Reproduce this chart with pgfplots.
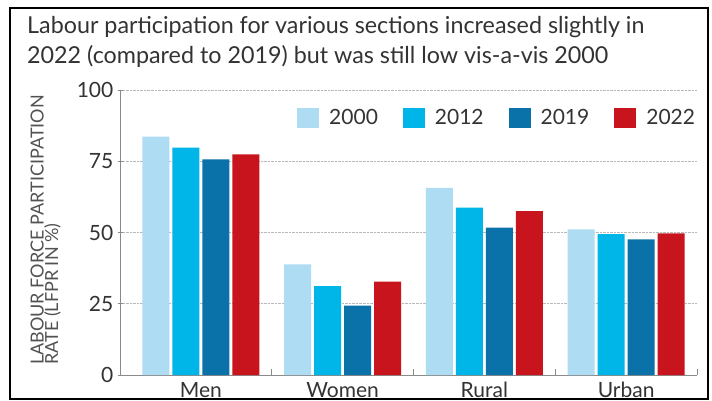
\documentclass[border=0pt]{standalone}
\usepackage{fontspec}
\setmainfont{Lato}
\usepackage{pgfplots}
\pgfplotsset{compat=1.18}
\definecolor{cA}{HTML}{AEDCF2}
\definecolor{cB}{HTML}{00B5E8}
\definecolor{cC}{HTML}{0A72A8}
\definecolor{cD}{HTML}{C8141C}
\definecolor{txt}{HTML}{333333}
\definecolor{axc}{HTML}{8A8A8A}
\begin{document}
\begin{tikzpicture}
\useasboundingbox (0,0) rectangle (712bp,-401bp);
\fill[white] (0,0) rectangle (712bp,-401bp);
\node[anchor=base west, inner sep=0pt, font=\fontsize{23.3bp}{25bp}\selectfont, text=txt] at (27bp,-33bp) {Labour participation for various sections increased slightly in};
\node[anchor=base west, inner sep=0pt, font=\fontsize{23.3bp}{25bp}\selectfont, text=txt] at (27bp,-63bp) {2022 (compared to 2019) but was still low vis-a-vis 2000};
\node[rotate=90, anchor=base west, inner sep=0pt, font=\fontsize{18bp}{20bp}\selectfont, text=txt!85!white] at (43.5bp,-365bp) {LABOUR FORCE PARTICIPATION};
\node[rotate=90, anchor=base west, inner sep=0pt, font=\fontsize{18bp}{20bp}\selectfont, text=txt!85!white] at (58bp,-365bp) {RATE (LFPR IN \%)};
\begin{axis}[
  at={(120bp,-375bp)}, anchor=south west,
  scale only axis, width=577bp, height=285bp,
  xmin=-0.57, xmax=3.5, ymin=0, ymax=100,
  ybar, bar width=27bp,
  axis x line*=bottom, axis y line*=left,
  axis line style={-, draw=axc, line width=0.9bp},
  ytick={0,25,50,75,100},
  ymajorgrids, grid style={densely dotted, draw=gray!55, line width=0.8bp},
  tick style={draw=axc, line width=0.8bp},
  major tick length=5bp, tick align=center,
  /pgf/number format/assume math mode=true,
  yticklabel style={font=\fontsize{21bp}{24bp}\selectfont, text=txt, anchor=east, inner sep=0pt, xshift=-4bp},
  xtick={0,1,2,3}, xticklabels={Men,Women,Rural,Urban},
  x tick style={draw=none},
  xticklabel style={font=\fontsize{21bp}{24bp}\selectfont, text=txt, anchor=base, inner sep=0pt, yshift=-20bp},
  extra x ticks={0.5,1.5,2.5,3.5}, extra x tick labels={},
  extra x tick style={major tick length=6bp, tick align=inside, x tick style={draw=axc, line width=0.8bp}},
  legend columns=4,
  legend image code/.code={\fill[#1] (0bp,-10bp) rectangle (22bp,10bp); \path (30bp,0bp);},
  legend style={at={(0.3068,0.9018)}, anchor=west, draw=none, fill=none, inner sep=0pt,
    font=\fontsize{21bp}{24bp}\selectfont, text=txt,
    /tikz/every even column/.append style={column sep=23bp}},
]
\addplot[fill=cA, draw=none, bar shift=-45bp] coordinates {(0,83.6) (1,38.8) (2,65.7) (3,51.1)};
\addplot[fill=cB, draw=none, bar shift=-15bp] coordinates {(0,79.8) (1,31.2) (2,58.7) (3,49.4)};
\addplot[fill=cC, draw=none, bar shift=15bp] coordinates {(0,75.7) (1,24.3) (2,51.7) (3,47.6)};
\addplot[fill=cD, draw=none, bar shift=45bp] coordinates {(0,77.4) (1,32.8) (2,57.5) (3,49.7)};
\legend{2000,2012,2019,2022}
\end{axis}
\draw[black, line width=1.2bp] (10bp,-8bp) rectangle (708bp,-399bp);
\end{tikzpicture}
\end{document}
